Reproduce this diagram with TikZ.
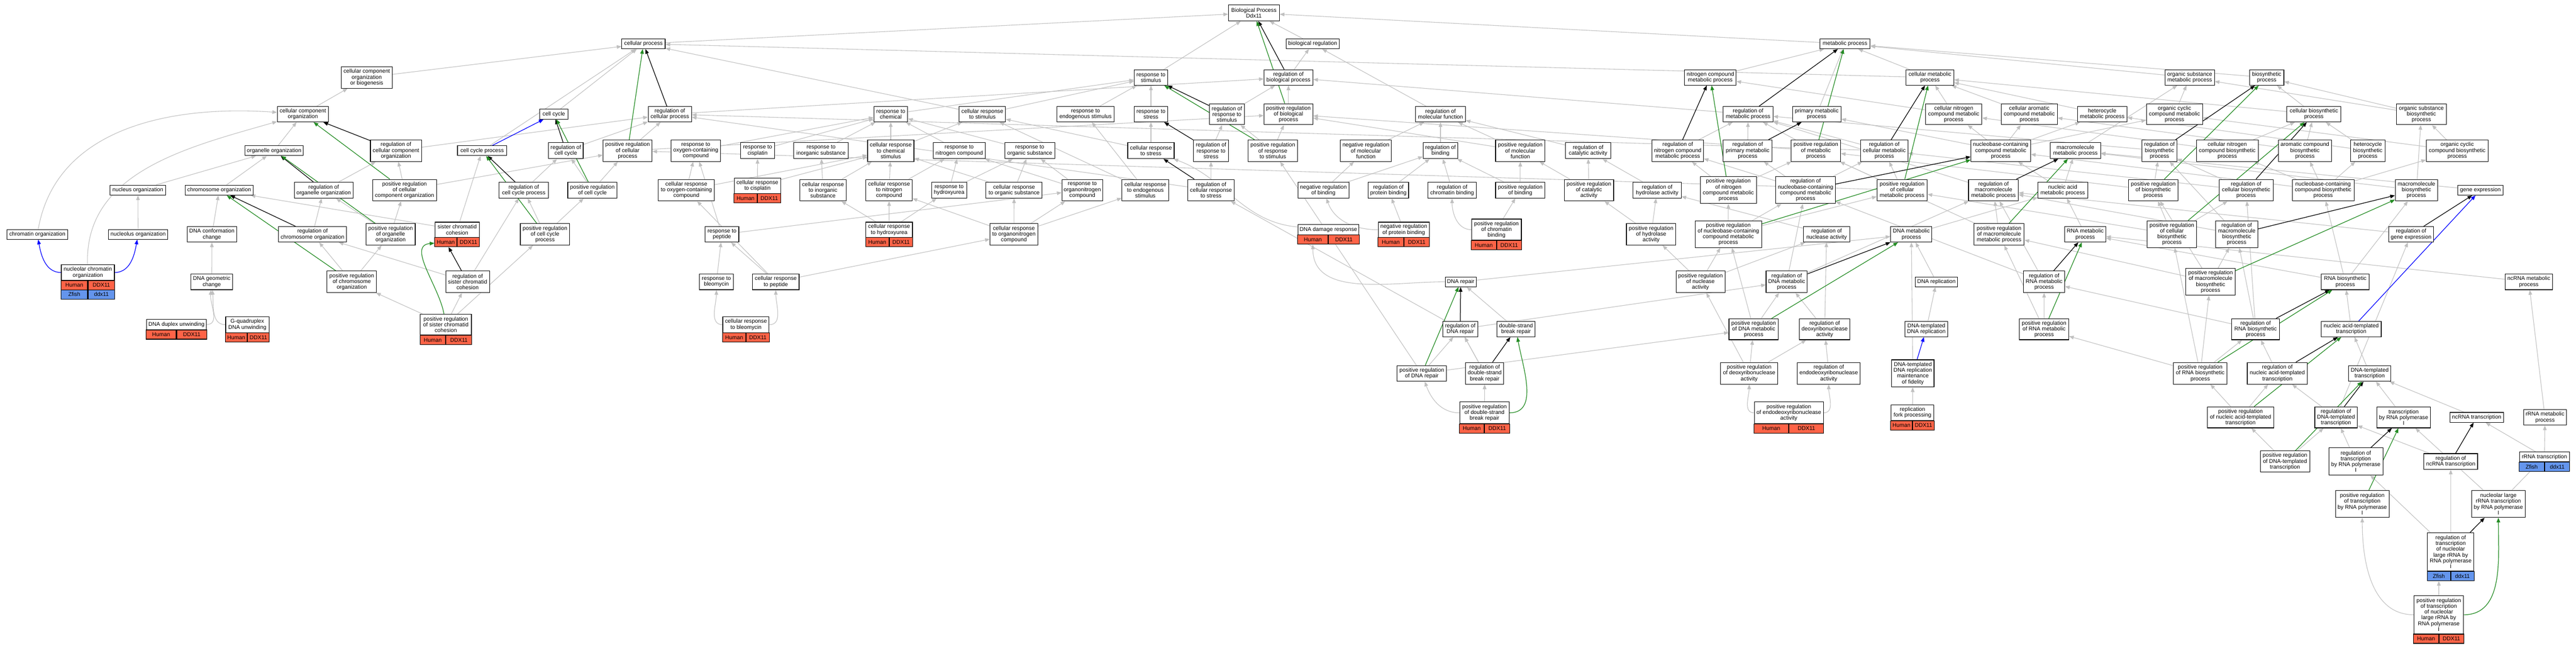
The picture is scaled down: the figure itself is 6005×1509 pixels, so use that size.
\documentclass[tikz,border=0pt]{standalone}
\usepackage{fontspec}
\setmainfont{Liberation Sans}
\usetikzlibrary{arrows.meta,backgrounds}
\definecolor{edgegray}{RGB}{192,192,192}
\definecolor{fgreen}{RGB}{34,139,34}
\definecolor{hred}{RGB}{255,99,71}
\definecolor{zblue}{RGB}{100,149,237}
\newcommand\gofont{\fontsize{12.9}{13.5}\selectfont}
\newcommand\GN[6]{\node[gobox,minimum width=#4pt,minimum height=#5pt] (#1) at (#2,#3) {#6};}
\newcommand\GC[8]{%
 \node[cellbox,fill=#6,minimum width=#5pt/2,anchor=north east] (#1) at (#3,#4) {#7};%
 \node[cellbox,fill=#6,minimum width=#5pt/2,anchor=north west] (#2) at (#3,#4) {#8};}
\begin{document}
\begin{tikzpicture}[x=1pt,y=-1pt,
 gobox/.style={draw=black,line width=1.3pt,fill=white,align=center,inner sep=1pt,font=\gofont},
 cellbox/.style={draw=black,line width=1.3pt,align=center,inner sep=0pt,minimum height=21.6pt,font=\gofont},
 isa/.style={draw=edgegray,line width=1.3pt,-{Triangle[length=11pt,width=8.5pt]}},
 regl/.style={draw=black,line width=1.5pt,-{Triangle[length=11pt,width=8.5pt]}},
 preg/.style={draw=fgreen,line width=1.5pt,-{Triangle[length=11pt,width=8.5pt]}},
 partof/.style={draw=blue,line width=1.5pt,-{Triangle[length=11pt,width=8.5pt]}}]
\useasboundingbox (0,0) rectangle (6005,1509);
% row 30-102-180
\GN{bp}{2923}{30}{119}{37}{Biological Process\\Ddx11}
\GN{cp}{1500}{102}{101}{23}{cellular process}
\GN{breg}{3060}{102}{124}{23}{biological regulation}
\GN{mp}{4301}{102}{117}{23}{metabolic process}
\GN{ccob}{855}{180.5}{119}{50}{cellular component\\organization\\or biogenesis}
\GN{rstim}{2683}{180.5}{78}{36}{response to\\stimulus}
\GN{rbp}{3003.5}{180.5}{114}{36}{regulation of\\biological process}
\GN{ncmp}{3987}{180.5}{120}{36}{nitrogen compound\\metabolic process}
\GN{cmp}{4499}{180.5}{111}{36}{cellular metabolic\\process}
\GN{osmp}{5104.5}{180.5}{115}{36}{organic substance\\metabolic process}
\GN{bsp}{5284}{180.5}{80}{36}{biosynthetic\\process}
% row 266
\GN{cco}{706}{266}{119}{36}{cellular component\\organization}
\GN{cc}{1291}{266}{66}{23}{cell cycle}
\GN{rcp}{1561.5}{266}{101}{36}{regulation of\\cellular process}
\GN{rchem}{2076.5}{266}{79}{36}{response to\\chemical}
\GN{crstim}{2290}{266}{108}{36}{cellular response\\to stimulus}
\GN{rendo}{2530.5}{266}{134}{36}{response to\\endogenous stimulus}
\GN{rstress}{2683}{266}{78}{36}{response to\\stress}
\GN{rrstim}{2860}{266}{82}{49}{regulation of\\response to\\stimulus}
\GN{prbp}{3003.5}{266}{114}{49}{positive regulation\\of biological\\process}
\GN{rmf}{3358}{266}{116}{36}{regulation of\\molecular function}
\GN{rmp}{4075}{266}{116}{36}{regulation of\\metabolic process}
\GN{pmp}{4235}{266}{113}{36}{primary metabolic\\process}
\GN{cncmp}{4554.5}{266}{131}{49}{cellular nitrogen\\compound metabolic\\process}
\GN{camp}{4730.5}{266}{131}{49}{cellular aromatic\\compound metabolic\\process}
\GN{hmp}{4900.5}{266}{116}{36}{heterocycle\\metabolic process}
\GN{occmp}{5069}{266}{131}{49}{organic cyclic\\compound metabolic\\process}
\GN{cbsp}{5394}{266}{126}{36}{cellular biosynthetic\\process}
\GN{osbsp}{5644.5}{266}{116}{49}{organic substance\\biosynthetic\\process}
% row 351
\GN{oo}{639}{351}{136}{23}{organelle organization}
\GN{rcco}{923}{351}{119}{50}{regulation of\\cellular component\\organization}
\GN{ccp}{1124}{351}{115}{23}{cell cycle process}
\GN{rcc}{1319}{351}{81}{37}{regulation of\\cell cycle}
\GN{prcp}{1463}{351}{114}{50}{positive regulation\\of cellular\\process}
\GN{roxy}{1622}{351}{115}{50}{response to\\oxygen-containing\\compound}
\GN{rcis}{1766}{351}{79}{37}{response to\\cisplatin}
\GN{rinorg}{1914}{351}{127}{37}{response to\\inorganic substance}
\GN{crchem}{2076.5}{351}{108}{50}{cellular response\\to chemical\\stimulus}
\GN{rnit}{2236}{351}{121}{37}{response to\\nitrogen compound}
\GN{rorg}{2400.5}{351}{116}{37}{response to\\organic substance}
\GN{crstress}{2683}{351}{108}{37}{cellular response\\to stress}
\GN{rrstress}{2823}{351}{82}{50}{regulation of\\response to\\stress}
\GN{prrstim}{2967}{351}{115}{50}{positive regulation\\of response\\to stimulus}
\GN{nrmf}{3184}{351}{119}{50}{negative regulation\\of molecular\\function}
\GN{rbind}{3358}{351}{81}{37}{regulation of\\binding}
\GN{prmf}{3544}{351}{115}{50}{positive regulation\\of molecular\\function}
\GN{rcat}{3702}{351}{105}{37}{regulation of\\catalytic activity}
\GN{rncmp}{3911}{351}{120}{50}{regulation of\\nitrogen compound\\metabolic process}
\GN{rpmp}{4074}{351}{114}{50}{regulation of\\primary metabolic\\process}
\GN{prmp}{4233}{351}{115}{50}{positive regulation\\of metabolic\\process}
\GN{rcmp}{4392.5}{351}{110}{50}{regulation of\\cellular metabolic\\process}
\GN{nccmp}{4664}{351}{139}{50}{nucleobase-containing\\compound metabolic\\process}
\GN{mmp}{4838}{351}{117}{37}{macromolecule\\metabolic process}
\GN{rbsp}{5034}{351}{81}{50}{regulation of\\biosynthetic\\process}
\GN{cncbsp}{5192}{351}{144}{50}{cellular nitrogen\\compound biosynthetic\\process}
\GN{acbsp}{5373}{351}{124}{50}{aromatic compound\\biosynthetic\\process}
\GN{hbsp}{5519.5}{351}{80}{50}{heterocycle\\biosynthetic\\process}
\GN{occbsp}{5728}{351}{144}{50}{organic cyclic\\compound biosynthetic\\process}
% row 443
\GN{nuo}{321.5}{443}{130}{23}{nucleus organization}
\GN{co}{511}{443}{159}{23}{chromosome organization}
\GN{roo}{754.5}{443}{136.5}{37}{regulation of\\organelle organization}
\GN{prcco}{943}{443}{149}{50}{positive regulation\\of cellular\\component organization}
\GN{rccp}{1221}{443}{115}{37}{regulation of\\cell cycle process}
\GN{prcc}{1381}{443}{115}{37}{positive regulation\\of cell cycle}
\GN{croxy}{1600}{443}{131}{50}{cellular response\\to oxygen-containing\\compound}
\GN{crcis}{1765.6}{432.6}{108}{36}{cellular response\\to cisplatin}
\GN{crinorg}{1918.5}{443}{108}{50}{cellular response\\to inorganic\\substance}
\GN{crnit}{2072.5}{443}{108}{50}{cellular response\\to nitrogen\\compound}
\GN{rhu}{2212.5}{443}{82}{37}{response to\\hydroxyurea}
\GN{crorg}{2364}{443}{131}{37}{cellular response\\to organic substance}
\GN{rorgn}{2523}{443}{95}{50}{response to\\organonitrogen\\compound}
\GN{crendo}{2670}{443}{109}{50}{cellular response\\to endogenous\\stimulus}
\GN{rcrstress}{2823}{443}{108}{50}{regulation of\\cellular response\\to stress}
\GN{nrbind}{3085}{443}{119}{37}{negative regulation\\of binding}
\GN{rpb}{3236.5}{443}{94}{37}{regulation of\\protein binding}
\GN{rchb}{3385}{443}{112}{37}{regulation of\\chromatin binding}
\GN{prbind}{3544}{443}{115}{37}{positive regulation\\of binding}
\GN{prcat}{3704}{443}{115}{50}{positive regulation\\of catalytic\\activity}
\GN{rhyd}{3863}{443}{112}{37}{regulation of\\hydrolase activity}
\GN{prncmp}{4029}{443}{131}{62.5}{positive regulation\\of nitrogen\\compound metabolic\\process}
\GN{rnccmp}{4209}{443}{139}{62.5}{regulation of\\nucleobase-containing\\compound metabolic\\process}
\GN{prcmp}{4434}{443}{117}{50}{positive regulation\\of cellular\\metabolic process}
\GN{rmmp}{4647}{443}{116}{50}{regulation of\\macromolecule\\metabolic process}
\GN{namp}{4808.5}{443}{116}{37}{nucleic acid\\metabolic process}
\GN{prbsp}{5019.5}{443}{116}{50}{positive regulation\\of biosynthetic\\process}
\GN{rcbsp}{5236}{443}{126}{50}{regulation of\\cellular biosynthetic\\process}
\GN{ncbsp}{5415.5}{443}{144}{50}{nucleobase-containing\\compound biosynthetic\\process}
\GN{mbsp}{5633}{443}{99}{50}{macromolecule\\biosynthetic\\process}
\GN{ge}{5782}{443}{105}{23}{gene expression}
% row 546
\GN{chro}{87}{546}{141.5}{23}{chromatin organization}
\GN{nlo}{322}{546}{138.5}{23}{nucleolus organization}
\GN{dcc}{494}{546}{115}{36}{DNA conformation\\change}
\GN{rco}{728.5}{546}{159}{36}{regulation of\\chromosome organization}
\GN{proo}{910.5}{546}{115}{50}{positive regulation\\of organelle\\organization}
\GN{scc}{1065.7}{535.2}{103.3}{35.1}{sister chromatid\\cohesion}
\GN{prccp}{1270.5}{546}{115}{50}{positive regulation\\of cell cycle\\process}
\GN{rpep}{1683}{546}{78.5}{36}{response to\\peptide}
\GN{crhu}{2072.7}{535.2}{108.4}{35.1}{cellular response\\to hydroxyurea}
\GN{crorgn}{2363.5}{546}{111}{50}{cellular response\\to organonitrogen\\compound}
\GN{ddr}{3096.6}{535}{142.2}{23.1}{DNA damage response}
\GN{nrpb}{3272.3}{535.2}{118.6}{35.1}{negative regulation\\of protein binding}
\GN{prchb}{3488.5}{535}{116}{49.1}{positive regulation\\of chromatin\\binding}
\GN{prhyd}{3849}{546}{115}{50}{positive regulation\\of hydrolase\\activity}
\GN{prnccmp}{4029}{545.5}{155}{62.5}{positive regulation\\of nucleobase-containing\\compound metabolic\\process}
\GN{rnuc}{4258}{546}{109}{36}{regulation of\\nuclease activity}
\GN{dmp}{4455.5}{546}{96}{36}{DNA metabolic\\process}
\GN{prmmp}{4660}{546}{117}{50}{positive regulation\\of macromolecule\\metabolic process}
\GN{rnamp}{4861}{546}{96}{36}{RNA metabolic\\process}
\GN{prcbsp}{5063}{545.5}{115}{62.5}{positive regulation\\of cellular\\biosynthetic\\process}
\GN{rmbsp}{5214}{545.5}{99}{62.5}{regulation of\\macromolecule\\biosynthetic\\process}
\GN{rge}{5620.5}{546}{105}{36}{regulation of\\gene expression}
% row 656
\GN{ncho}{204.75}{634.85}{123.7}{36.1}{nucleolar chromatin\\organization}
\GN{dgc}{493.5}{656.5}{98}{37}{DNA geometric\\change}
\GN{prco}{820}{656.5}{115}{50}{positive regulation\\of chromosome\\organization}
\GN{rscc}{1090}{656.5}{102}{50}{regulation of\\sister chromatid\\cohesion}
\GN{rbleo}{1670}{656.5}{78.5}{37}{response to\\bleomycin}
\GN{crpep}{1808.5}{656.5}{108.5}{37}{cellular response\\to peptide}
\GN{dnarep}{3405}{656.5}{72}{23}{DNA repair}
\GN{prnuc}{3964}{656.5}{114}{50}{positive regulation\\of nuclease\\activity}
\GN{rdmp}{4165}{656.5}{96}{50}{regulation of\\DNA metabolic\\process}
\GN{drep}{4514}{656.5}{99}{23}{DNA replication}
\GN{rrnamp}{4765}{656.5}{96}{50}{regulation of\\RNA metabolic\\process}
\GN{prmbsp}{5153}{656.5}{115}{63}{positive regulation\\of macromolecule\\biosynthetic\\process}
\GN{rnabsp}{5467}{656.5}{111}{37}{RNA biosynthetic\\process}
\GN{ncrnamp}{5895}{656.5}{111}{37}{ncRNA metabolic\\process}
% row 767
\GN{dupl}{411.3}{756}{140.3}{24}{DNA duplex unwinding}
\GN{gq}{576.5}{756.4}{101}{36.7}{G-quadruplex\\DNA unwinding}
\GN{prscc}{1039.3}{756.2}{119.3}{48.7}{positive regulation\\of sister chromatid\\cohesion}
\GN{crbleo}{1739}{756.4}{108}{36.7}{cellular response\\to bleomycin}
\GN{rdnarep}{3404}{766.7}{81}{36}{regulation of\\DNA repair}
\GN{dsbr}{3534}{766.7}{88.6}{36}{double-strand\\break repair}
\GN{prdmp}{4088}{767}{115}{49}{positive regulation\\of DNA metabolic\\process}
\GN{rdnase}{4253.5}{767}{118}{49}{regulation of\\deoxyribonuclease\\activity}
\GN{dtdr}{4490.5}{766.7}{99.5}{36}{DNA-templated\\DNA replication}
\GN{prrnamp}{4765}{767}{115}{49}{positive regulation\\of RNA metabolic\\process}
\GN{rrnabsp}{5258}{767}{111}{49}{regulation of\\RNA biosynthetic\\process}
\GN{natt}{5481}{766.7}{140}{36}{nucleic acid-templated\\transcription}
% row 870
\GN{prdnarep}{3314.4}{870}{115}{36.6}{positive regulation\\of DNA repair}
\GN{rdsbr}{3461}{869.6}{88.6}{50.5}{regulation of\\double-strand\\break repair}
\GN{prdnase}{4077.5}{869.6}{133}{50.5}{positive regulation\\of deoxyribonuclease\\activity}
\GN{rendonuc}{4263}{869.6}{147}{50.5}{regulation of\\endodeoxyribonuclease\\activity}
\GN{dtdrmf}{4459}{870}{99}{63.4}{DNA-templated\\DNA replication\\maintenance\\of fidelity}
\GN{prrnabsp}{5129}{869.6}{125}{50.5}{positive regulation\\of RNA biosynthetic\\process}
\GN{rnatt}{5308.7}{869.6}{140}{50.5}{regulation of\\nucleic acid-templated\\transcription}
\GN{dtt}{5524}{870}{98}{36.6}{DNA-templated\\transcription}
% row 972
\GN{prdsbr}{3460.5}{961.7}{116}{50}{positive regulation\\of double-strand\\break repair}
\GN{prendonuc}{4170}{961.7}{161}{50}{positive regulation\\of endodeoxyribonuclease\\activity}
\GN{rfp}{4458.2}{961.5}{100}{36}{replication\\fork processing}
\GN{prnatt}{5223}{972.3}{154.5}{49}{positive regulation\\of nucleic acid-templated\\transcription}
\GN{rdtt}{5445.5}{972.3}{99}{49}{regulation of\\DNA-templated\\transcription}
\GN{trp1}{5603}{972.3}{125}{49}{transcription\\by RNA polymerase\\I}
\GN{nctr}{5773.4}{972.3}{125}{23}{ncRNA transcription}
\GN{rrmp}{5932.7}{972.5}{100}{36}{rRNA metabolic\\process}
% row 1075
\GN{prdtt}{5326.6}{1075.2}{115}{49}{positive regulation\\of DNA-templated\\transcription}
\GN{rtrp1}{5491.7}{1075}{126}{63}{regulation of\\transcription\\by RNA polymerase\\I}
\GN{rnctr}{5713}{1075.2}{125}{36.6}{regulation of\\ncRNA transcription}
\GN{rrtr}{5931.4}{1064.4}{116.7}{22.6}{rRNA transcription}
\GN{prtrp1}{5506.7}{1174}{125}{63}{positive regulation\\of transcription\\by RNA polymerase\\I}
\GN{nlrtr}{5824}{1174}{125}{63}{nucleolar large\\rRNA transcription\\by RNA polymerase\\I}
\GN{rtnl}{5712.8}{1285.75}{107.7}{89.5}{regulation of\\transcription\\of nucleolar\\large rRNA by\\RNA polymerase\\I}
\GN{prtnl}{5685}{1432.15}{116}{88.9}{positive regulation\\of transcription\\of nucleolar\\large rRNA by\\RNA polymerase\\I}
% gene cells
\GC{nchoh}{nchohg}{204.75}{652.9}{123.7}{hred}{Human}{DDX11}
\GC{nchoz}{nchozg}{204.75}{674.5}{123.7}{zblue}{Zfish}{ddx11}
\GC{duplh}{duplhg}{411.3}{768}{140.3}{hred}{Human}{DDX11}
\GC{gqh}{gqhg}{576.5}{774.7}{101}{hred}{Human}{DDX11}
\GC{prscch}{prscchg}{1039.3}{780.5}{119.3}{hred}{Human}{DDX11}
\GC{scch}{scchg}{1065.7}{552.7}{103.3}{hred}{Human}{DDX11}
\GC{crcish}{crcishg}{1765.6}{450.6}{107.8}{hred}{Human}{DDX11}
\GC{crbleoh}{crbleohg}{1739}{774.7}{108}{hred}{Human}{DDX11}
\GC{crhuh}{crhuhg}{2072.7}{552.7}{108.4}{hred}{Human}{DDX11}
\GC{ddrh}{ddrhg}{3096.6}{546.5}{142.2}{hred}{Human}{DDX11}
\GC{nrpbh}{nrpbhg}{3272.3}{552.7}{118.6}{hred}{Human}{DDX11}
\GC{prchbh}{prchbhg}{3488.5}{559.5}{116}{hred}{Human}{DDX11}
\GC{prdsbrh}{prdsbrhg}{3460.5}{986.7}{116}{hred}{Human}{DDX11}
\GC{prendonuch}{prendonuchg}{4170}{986.7}{161.3}{hred}{Human}{DDX11}
\GC{rfph}{rfphg}{4458.2}{979.5}{100}{hred}{Human}{DDX11}
\GC{rrtrz}{rrtrzg}{5931.4}{1075.7}{116.7}{zblue}{Zfish}{ddx11}
\GC{rtnlz}{rtnlzg}{5712.8}{1330.5}{107.7}{zblue}{Zfish}{ddx11}
\GC{prtnlh}{prtnlhg}{5685}{1476.6}{116}{hred}{Human}{DDX11}
\begin{pgfonlayer}{background}
\fill[white] (0,0) rectangle (6005,1509);
\foreach \a/\b in {cp/bp, breg/bp, mp/bp, rstim/bp, ccob/cp, cco/ccob, oo/cco, rcco/rcp, prcco/rcco, prcco/prcp, nuo/oo, co/oo, roo/rcco, nlo/nuo, dcc/co, rco/roo, proo/roo, proo/prcco, prco/rco, prco/proo, scc/co, scc/ccp, rscc/rco, rscc/rccp, prscc/rscc, prscc/prco, prscc/prccp, cc/cp, ccp/cp, rcc/rcp, prcp/rcp, prcp/prbp, rcp/rbp, rccp/rcc, prcc/rcc, prcc/prcp, prccp/rccp, prccp/prcc,
 roxy/rchem, rcis/rchem, rinorg/rchem, croxy/roxy, croxy/crchem, crcis/rcis, crcis/crchem, crinorg/rinorg, crinorg/crchem, crhu/crinorg, rpep/roxy, rpep/rorgn, rbleo/rpep, crpep/rpep, crpep/croxy, crpep/crorgn, rchem/rstim, crstim/rstim, crstim/cp, rendo/rstim, rstress/rstim, rrstim/rbp, prrstim/rrstim, prrstim/prbp, prbp/rbp, rbp/breg, crchem/rchem, crchem/crstim, rnit/rchem, rorg/rchem, crstress/rstress, crstress/crstim, rrstress/rrstim, crnit/crchem, crnit/rnit, rhu/rnit, rhu/rorg, crorg/rorg, crorg/crchem, rorgn/rorg, rorgn/rnit, crendo/rendo, crendo/crstim, rcrstress/rrstress, rcrstress/rcp, crhu/rhu, crhu/crnit, crorgn/rorgn, crorgn/crorg, crorgn/crnit, crorgn/crendo, dnarep/dmp, rdnarep/rcrstress, rdnarep/rdmp, dsbr/dnarep, prdnarep/rdnarep, prdnarep/prrstim, prdnarep/prdmp, rdsbr/rdnarep, prdsbr/rdsbr,
 rmf/breg, nrmf/rmf, rbind/rmf, prmf/rmf, rcat/rmf, nrbind/nrmf, nrbind/rbind, rpb/rbind, rchb/rbind, prbind/rbind, prbind/prmf, prcat/rcat, prcat/prmf, rhyd/rcat, nrpb/rpb, prchb/prbind, prhyd/rhyd, prhyd/prcat, prnuc/prhyd, prnuc/rnuc, prnuc/prnccmp, rnuc/rhyd, prmf/prbp,
 ncmp/mp, rncmp/rmp, prncmp/rncmp, prncmp/prmp, cmp/mp, cmp/cp, rmp/rbp, pmp/mp, cncmp/cmp, cncmp/ncmp, camp/cmp, hmp/cmp, rpmp/rmp, prmp/rmp, prmp/prbp, rcmp/rmp, rcmp/rcp, nccmp/camp, nccmp/cncmp, nccmp/hmp, nccmp/occmp, nccmp/pmp, mmp/osmp, rnccmp/rcmp, rnccmp/rpmp, rnccmp/rncmp, prcmp/rcmp, prcmp/prmp, prcmp/prcp, rmmp/rmp, namp/mmp, namp/nccmp, prnccmp/rnccmp, prnccmp/prncmp, prnccmp/prcmp, dmp/namp, prmmp/rmmp, prmmp/prmp, rnamp/namp, rdmp/rnccmp, rdmp/rmmp, drep/dmp, rrnamp/rnccmp, rrnamp/rmmp, prdmp/rdmp, prdmp/prnccmp, rdnase/rnuc, rdnase/rdmp, dtdr/drep, dtdrmf/dmp, rfp/dtdrmf, prrnamp/rrnamp, prrnamp/prmmp, prdnase/rdnase, prdnase/prdmp, prdnase/prnuc, rendonuc/rdnase,
 osmp/mp, bsp/mp, occmp/osmp, cbsp/bsp, cbsp/cmp, osbsp/bsp, osbsp/osmp, cncbsp/cbsp, cncbsp/cncmp, acbsp/cbsp, acbsp/camp, hbsp/cbsp, hbsp/hmp, occbsp/osbsp, occbsp/occmp, rbsp/rmp, prbsp/rbsp, prbsp/prmp, rcbsp/rbsp, rcbsp/rcmp, ncbsp/cncbsp, ncbsp/acbsp, ncbsp/hbsp, ncbsp/occbsp, ncbsp/nccmp, mbsp/mmp, mbsp/osbsp, ge/mmp, rge/rmmp, prcbsp/rcbsp, prcbsp/prbsp, prcbsp/prcmp, rmbsp/rbsp, rmbsp/rmmp, prmbsp/rmbsp, prmbsp/prbsp, prmbsp/prmmp, rnabsp/ncbsp, rnabsp/mbsp, rnabsp/rnamp, ncrnamp/rnamp, rrnabsp/rmbsp, rrnabsp/rcbsp, rrnabsp/rrnamp, natt/rnabsp, prrnabsp/rrnabsp, prrnabsp/prmbsp, prrnabsp/prcbsp, prrnabsp/prrnamp, rnatt/rrnabsp, dtt/natt, prnatt/rnatt, prnatt/prrnabsp, rdtt/rnatt, rdtt/rge, trp1/dtt, nctr/dtt, rrmp/ncrnamp, prdtt/prnatt, prdtt/rdtt, rtrp1/rdtt, rnctr/rdtt, rrtr/rrmp, rrtr/nctr, nlrtr/trp1, nlrtr/rrtr, rtnl/rtrp1, rtnl/rnctr, prtnl/rtnlz, rdsbr/rdnarep}
 \draw[isa] (\a) -- (\b);
\foreach \a/\b in {rbp/bp, rcco/cco, roo/oo, rco/co, rcc/cc, rcp/cp, rccp/ccp, rrstim/rstim, rrstress/rstress, rcrstress/crstress, rdnarep/dnarep, rdsbr/dsbr, rncmp/ncmp, rmp/mp, rpmp/pmp, rcmp/cmp, rnccmp/nccmp, rmmp/mmp, rdmp/dmp, rrnamp/rnamp, rbsp/bsp, rcbsp/cbsp, rge/ge, rmbsp/mbsp, rrnabsp/rnabsp, rnatt/natt, rdtt/dtt, rtrp1/trp1, rnctr/nctr, rtnl/nlrtr, rscc/scch}
 \draw[regl] (\a) -- (\b);
\foreach \a/\b in {prbp/bp, prcco/cco, proo/oo, prco/co, prcp/cp, prcc/cc, prccp/ccp, prrstim/rstim, prdnarep/dnarep, prncmp/ncmp, prmp/mp, prcmp/cmp, prnccmp/nccmp, prmmp/mmp, prdmp/dmp, prrnamp/rnamp, prbsp/bsp, prcbsp/cbsp, prmbsp/mbsp, prrnabsp/rnabsp, prnatt/natt, prdtt/dtt, prtrp1/trp1}
 \draw[preg] (\a) -- (\b);
\foreach \a/\b in {ccp/cc, natt/ge, dtdrmf/dtdr}
 \draw[partof] (\a) -- (\b);
% curved connectors
\draw[isa] (chro) to[out=80,in=176] (cco);
\draw[isa] (ncho) to[out=92,in=196] (cco);
\draw[partof] (ncho) to[out=180,in=-80] (chro);
\draw[partof] (ncho) to[out=0,in=-100] (nlo);
\draw[isa] (dupl) to[out=0,in=-95] (dgc);
\draw[isa] (gq) to[out=180,in=-85] (dgc);
\draw[isa] (dgc) -- (dcc);
\draw[preg] (prscc) to[out=100,in=185] (scch);
\draw[isa] (crbleo) to[out=180,in=-90] (rbleo);
\draw[isa] (crbleo) to[out=0,in=-90] (crpep);
\draw[isa] (ddr) to[out=175,in=-20] (crstress);
\draw[isa] (dnarep) to[out=180,in=-90] (ddrh);
\draw[isa] (nrpb) to[out=180,in=-70] (nrbind);
\draw[isa] (prchb) to[out=180,in=-90] (rchb);
\draw[isa] (prdsbr) to[out=180,in=-70] (prdnarep);
\draw[preg] (prdsbr) to[out=0,in=-80] (dsbr);
\draw[isa] (prendonuc) to[out=180,in=-90] (prdnase);
\draw[isa] (prendonuc) to[out=0,in=-90] (rendonuc);
\draw[isa] (prtnl) to[out=180,in=-90] (prtrp1);
\draw[preg] (prtnl) to[out=0,in=-90] (nlrtr);
\end{pgfonlayer}
\end{tikzpicture}
\end{document}
